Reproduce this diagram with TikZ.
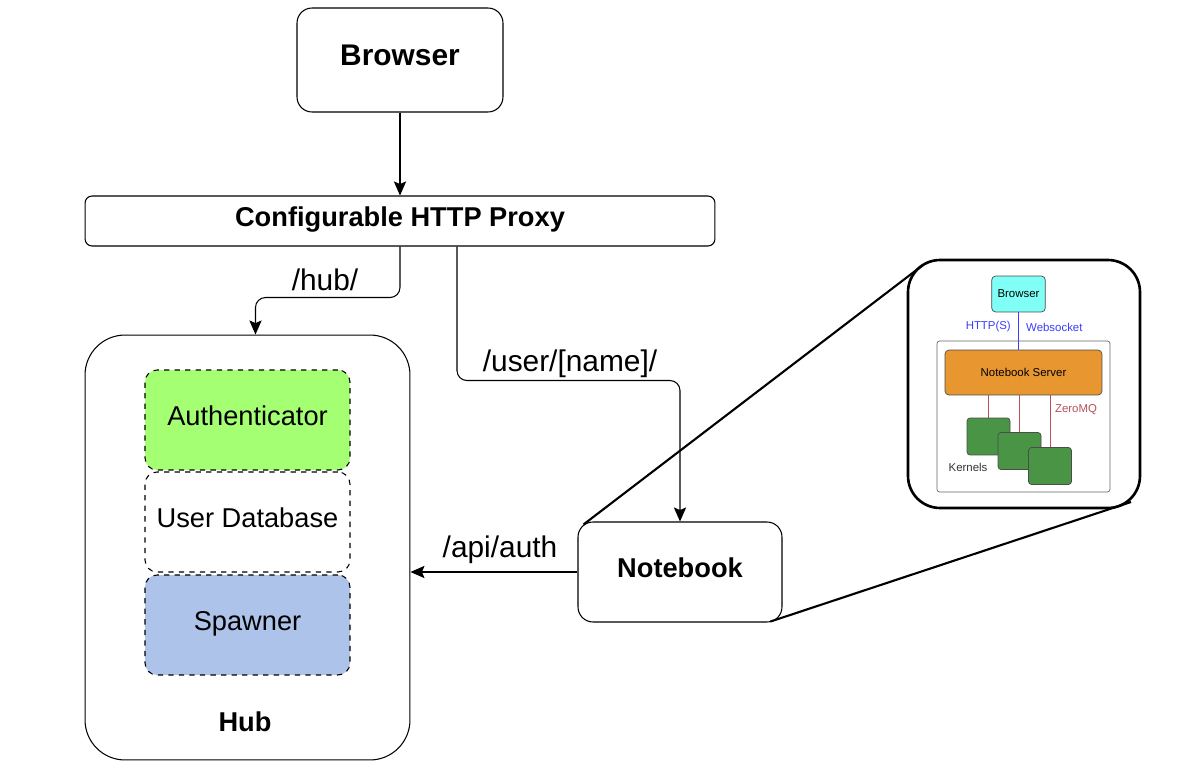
\documentclass[tikz,border=0pt]{standalone}
\usepackage{fontspec}
\setmainfont{Liberation Sans}
\usetikzlibrary{calc,arrows.meta}

\definecolor{authgreen}{RGB}{164,255,114}
\definecolor{spawnblue}{RGB}{174,195,234}
\definecolor{browsercyan}{RGB}{128,255,247}
\definecolor{serverorange}{RGB}{232,150,48}
\definecolor{kernelgreen}{RGB}{74,148,70}
\definecolor{zmqred}{RGB}{180,82,88}
\definecolor{wsblue}{RGB}{60,60,255}

\tikzset{
    box/.style={draw, line width=0.6pt, rounded corners=0.3cm, align=center,
        text height=11pt, text depth=5pt},
    part/.style={draw, dashed, line width=0.6pt, rounded corners=0.24cm,
        minimum width=4.1cm, minimum height=2cm, text height=11pt, text depth=5pt,
        font=\fontsize{15.5}{18}\selectfont},
    conn/.style={line width=0.6pt, -{Stealth[length=8pt,width=7pt,inset=1.5pt]}},
    lbl/.style={font=\fontsize{17}{20}\selectfont},
    tiny/.style={font=\fontsize{6.5}{8}\selectfont},
    kernel/.style={draw=black!70, fill=kernelgreen, rounded corners=0.06cm,
        minimum width=0.86cm, minimum height=0.74cm}
}

\begin{document}
\begin{tikzpicture}[x=0.02cm, y=-0.02cm]
    \useasboundingbox (0,0) rectangle (1178,767);

    % Browser and proxy
    \node (browser) at (400,60) [box, minimum width=4.12cm, minimum height=2.08cm,
        font=\bfseries\fontsize{17}{20}\selectfont] {Browser};
    \node (proxy) at (400,221) [box, rounded corners=0.14cm, minimum width=12.6cm,
        minimum height=1cm, font=\bfseries\fontsize{15.5}{18}\selectfont] {Configurable HTTP Proxy};
    \draw [conn] (browser) -- (proxy);

    % The hub and its parts
    \node (hub) at (247.5,547.5) [box, rounded corners=0.8cm, minimum width=6.5cm,
        minimum height=8.5cm] {};
    \node (hubname) at (245,722) [font=\bfseries\fontsize{15.5}{18}\selectfont] {Hub};
    \node (auth) at (247.5,420) [part, fill=authgreen] {Authenticator};
    \node (userdb) at (247.5,522) [part] {User Database};
    \node (spawner) at (247.5,625) [part, fill=spawnblue] {Spawner};

    % Routes of the proxy
    \draw [conn, rounded corners=0.2cm] (proxy.south) -- ++(0,51)
        -| ([xshift=0.16cm]hub.north);
    \node (hublbl) at (325,280) [lbl] {/hub/};

    \node (nb) at (680,572) [box, minimum width=4.08cm, minimum height=2cm,
        font=\bfseries\fontsize{15.5}{18}\selectfont] {Notebook};
    \draw [conn, rounded corners=0.2cm] ([xshift=1.14cm]proxy.south) -- ++(0,134)
        -| (nb.north);
    \node (userlbl) at (570,364) [lbl] {/user/[name]/};

    \draw [conn] (nb.west) -- (nb.west -| hub.east);
    \node (apilbl) at (500,550) [lbl] {/api/auth};

    % Zoom into the notebook
    \node (inset) at (1024,384) [box, line width=1.5pt, rounded corners=0.64cm,
        minimum width=4.64cm, minimum height=4.96cm] {};
    \coordinate (zoomtl) at (923,265);
    \coordinate (zoombr) at (1131,502);
    \draw [line width=1.2pt] ([shift={(0.12cm,-0.06cm)}]nb.north west) -- (zoomtl);
    \draw [line width=1.2pt] ([shift={(-0.24cm,0.02cm)}]nb.south east) -- (zoombr);

        % Inside the notebook
        \node (single) at (1023.5,416.5) [draw=black!60, rounded corners=0.05cm,
            minimum width=3.46cm, minimum height=3.02cm] {};
        \node (sbrowser) at (1018.5,294) [draw=black!70, fill=browsercyan, rounded corners=0.08cm,
            minimum width=1.02cm, minimum height=0.72cm, tiny] {Browser};
        \node (server) at (1023.5,372.5) [draw=black!70, fill=serverorange, rounded corners=0.08cm,
            minimum width=3.14cm, minimum height=0.9cm, tiny] {Notebook Server};
        \draw [wsblue, line width=0.5pt] (sbrowser) -- (sbrowser |- server.north);
        \node (httplbl) at (1017,327) [anchor=east, tiny, text=wsblue] {HTTP(S)};
        \node (wslbl) at (1020,327) [anchor=west, tiny, text=wsblue] {Websocket};

        % Kernels
        \foreach \k/\x/\y in {k1/988.5/436.5, k2/1019.5/451, k3/1050/466}
        {
            \draw [zmqred, line width=0.5pt] (server.south -| \x,0) -- (\x,\y);
            \node (\k) at (\x,\y) [kernel] {};
        }
        \node (zmqlbl) at (1076,410) [tiny, text=zmqred] {ZeroMQ};
        \node (kernlbl) at (968,467) [tiny, text=black!80] {Kernels};
\end{tikzpicture}
\end{document}
